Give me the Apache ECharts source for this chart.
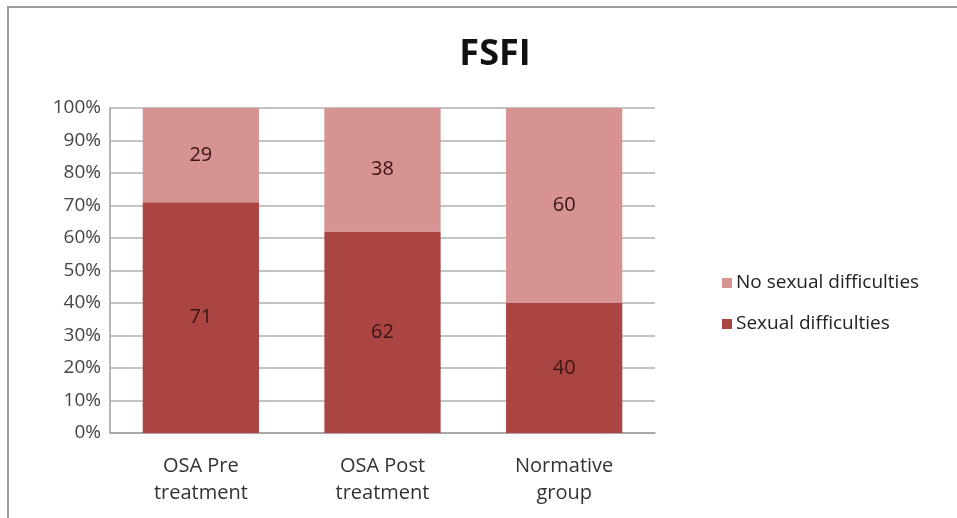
<!DOCTYPE html>
<html><head><meta charset="utf-8">
<script src="https://cdn.jsdelivr.net/npm/echarts@6/dist/echarts.min.js"></script>
<style>html,body{margin:0;padding:0;background:#fff}#c{width:957px;height:518px}</style>
</head><body><div id="c"></div>
<script>
const categories = ['OSA Pre\ntreatment', 'OSA Post\ntreatment', 'Normative\ngroup'];
const sexualDifficulties = [71, 62, 40];
const noSexualDifficulties = [29, 38, 60];
const yTicks = [0, 10, 20, 30, 40, 50, 60, 70, 80, 90, 100];

const chart = echarts.init(document.getElementById('c'));
const font = '"Open Sans", "Noto Sans", sans-serif';
const lbl = {show: true, position: 'inside', color: '#3b1515', fontSize: 20, fontFamily: font};
chart.setOption({
  animation: false,
  backgroundColor: '#fff',
  graphic: [{type: 'rect', shape: {x: 8, y: 7, width: 970, height: 530}, style: {fill: 'none', stroke: '#9c9c9c', lineWidth: 2}}],
  title: {text: 'FSFI', left: 490, top: 32, textAlign: 'center',
    textStyle: {fontFamily: font, fontSize: 36, fontWeight: 'bold', color: '#111'}},
  legend: {orient: 'vertical', left: 722, top: 273, padding: 0, itemWidth: 10, itemHeight: 10, itemGap: 21,
    icon: 'rect', data: ['No sexual difficulties', 'Sexual difficulties'],
    textStyle: {fontFamily: font, fontSize: 19, lineHeight: 20, color: '#222', padding: [0, 0, 0, -1]}},
  grid: {left: 110, right: 302, top: 108, bottom: 85},
  xAxis: {type: 'category', data: categories,
    axisLine: {lineStyle: {color: '#a0a0a0', width: 1.5}}, axisTick: {show: false},
    axisLabel: {fontFamily: font, fontSize: 20, color: '#333', lineHeight: 27, margin: 20}},
  yAxis: {type: 'value', min: yTicks[0], max: yTicks[yTicks.length - 1], interval: 10,
    axisLine: {show: true, lineStyle: {color: '#a0a0a0', width: 1.5}}, axisTick: {show: false},
    splitLine: {lineStyle: {color: '#b0b0b0', width: 1.5}},
    axisLabel: {formatter: '{value}%', fontFamily: font, fontSize: 19, color: '#444', margin: 9}},
  series: [
    {name: 'Sexual difficulties', type: 'bar', stack: 's', barWidth: '64%', data: sexualDifficulties,
      itemStyle: {color: '#AB4543'}, label: lbl},
    {name: 'No sexual difficulties', type: 'bar', stack: 's', data: noSexualDifficulties,
      itemStyle: {color: '#D69392'}, label: lbl}
  ]
});
</script></body></html>
